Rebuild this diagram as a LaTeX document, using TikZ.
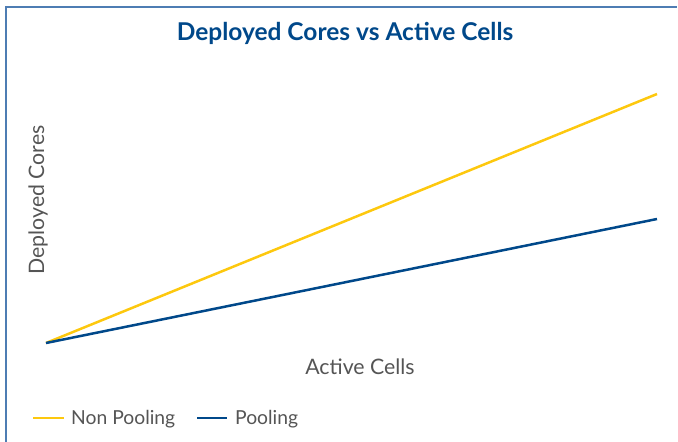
\documentclass[tikz,border=0pt]{standalone}
\usepackage{fontspec}
\setmainfont{Lato}
\usetikzlibrary{positioning}
\definecolor{coreblue}{HTML}{00488A}
\definecolor{coreyellow}{HTML}{FDC80E}
\definecolor{framecol}{HTML}{4E7DB3}
\definecolor{labelgray}{HTML}{555555}

\begin{document}
\begin{tikzpicture}[
    x = 1pt, y = -1pt,
    frame/.style = {draw = framecol, line width = 2pt},
    title/.style = {font = \bfseries\fontsize{24.5}{28}\selectfont, text = coreblue},
    axislabel/.style = {font = \fontsize{21.3}{25}\selectfont, text = labelgray},
    legendtext/.style = {font = \fontsize{19.3}{23}\selectfont, text = labelgray, anchor = west, inner sep = 0pt},
    nonpool/.style = {draw = coreyellow, line width = 2.5pt},
    pool/.style = {draw = coreblue, line width = 2.5pt}
    ]
\useasboundingbox (0,0) rectangle (678,442);
% frame
\draw [frame] (6,442) -- (6,7) -- (677,7);
% title and axis labels
\node [title]  (ttl)  at (345,33)  {Deployed Cores vs Active Cells};
\node [axislabel, rotate = 90]  (ylab)  at (38,200)  {Deployed Cores};
\node [axislabel]  (xlab)  at (360,367)  {Active Cells};
% curves
\coordinate (origin)  at (46,343);
\coordinate (np_end)  at (657,94);
\coordinate (p_end)   at (657,219);
\draw [nonpool]  (origin)  --  (np_end);
\draw [pool]     (origin)  --  (p_end);
% legend
\coordinate (l1a)  at (33,418);
\coordinate (l1b)  at (64,418);
\draw [nonpool]  (l1a)  --  (l1b);
\node [legendtext]  (l1t)  [right = 7pt of l1b, yshift = -1.5pt]  {Non Pooling};
\coordinate (l2a)  at (197,418);
\coordinate (l2b)  at (227,418);
\draw [pool]  (l2a)  --  (l2b);
\node [legendtext]  (l2t)  [right = 8pt of l2b, yshift = -1.5pt]  {Pooling};
\end{tikzpicture}
\end{document}
